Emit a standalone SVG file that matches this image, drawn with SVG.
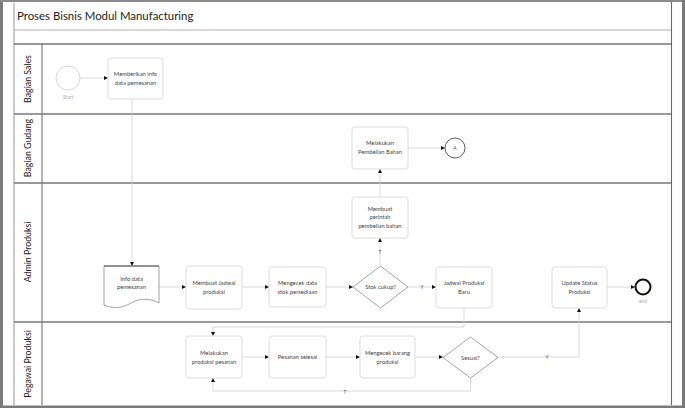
<svg xmlns="http://www.w3.org/2000/svg" width="685" height="408" viewBox="0 0 685 408">
<style>
.t{font-family:Lato,"Liberation Sans",sans-serif;font-size:5.8px;fill:#444;text-anchor:middle}
.lane{font-family:Lato,"Liberation Sans",sans-serif;font-size:8.8px;fill:#222;text-anchor:middle}
.task{fill:#fff;stroke:#d8d8d8;stroke-width:0.9}
.gw{fill:#fff;stroke:#8a8a8a;stroke-width:0.8}
.c{fill:none;stroke:#cfcfcf;stroke-width:0.8}
.lbl{font-family:Lato,"Liberation Sans",sans-serif;font-size:5px;fill:#555;text-anchor:middle}
</style>
<defs>
<marker id="ah" markerUnits="userSpaceOnUse" markerWidth="5" markerHeight="5" refX="4" refY="2" orient="auto">
<path d="M0,0 L4,2 L0,4 Z" fill="#111"/>
</marker>
</defs>
<rect width="685" height="408" fill="#fff"/>
<g id="frame">
<rect x="0" y="0" width="3" height="408" fill="#7a7a7a"/>
<rect x="0" y="0" width="685" height="2" fill="#8a8a8a"/>
<rect x="0" y="405.5" width="685" height="2.5" fill="#7a7a7a"/>
<rect x="682" y="0" width="3" height="408" fill="#7a7a7a"/>
<line x1="668" y1="2" x2="668" y2="405" stroke="#e6e6e6" stroke-width="0.6"/>
<line x1="671.5" y1="2" x2="671.5" y2="405" stroke="#666" stroke-width="1.1"/>
<line x1="14" y1="3" x2="14" y2="405" stroke="#888" stroke-width="0.9"/>
<line x1="14" y1="30" x2="671" y2="30" stroke="#aaa" stroke-width="0.9"/>
<line x1="14" y1="44" x2="671" y2="44" stroke="#333" stroke-width="1.1"/>
<line x1="42" y1="44" x2="42" y2="405" stroke="#555" stroke-width="0.9"/>
<line x1="14" y1="114" x2="671" y2="114" stroke="#777" stroke-width="1.6"/>
<line x1="14" y1="183" x2="671" y2="183" stroke="#777" stroke-width="1.3"/>
<line x1="14" y1="322" x2="671" y2="322" stroke="#777" stroke-width="1.3"/>
<text x="17" y="20" font-family="Lato,'Liberation Sans',sans-serif" font-size="11.4" fill="#222">Proses Bisnis Modul Manufacturing</text>
<text class="lane" transform="translate(31,79) rotate(-90)">Bagian Sales</text>
<text class="lane" transform="translate(31,148) rotate(-90)">Bagian Gudang</text>
<text class="lane" transform="translate(31,252) rotate(-90)">Admin Produksi</text>
<text class="lane" transform="translate(31,364) rotate(-90)">Pegawai Produksi</text>
</g>
<g id="connectors">
<line class="c" x1="80" y1="78" x2="108" y2="78" marker-end="url(#ah)"/>
<line class="c" x1="132" y1="99" x2="132" y2="266" marker-end="url(#ah)"/>
<line class="c" x1="159" y1="287" x2="186" y2="287" marker-end="url(#ah)"/>
<line class="c" x1="242" y1="287" x2="269" y2="287" marker-end="url(#ah)"/>
<line class="c" x1="326" y1="287" x2="353" y2="287" marker-end="url(#ah)"/>
<line class="c" x1="408" y1="287" x2="436" y2="287" marker-end="url(#ah)"/>
<text class="lbl" x="422" y="289">Y</text>
<line class="c" x1="380" y1="266" x2="380" y2="238" marker-end="url(#ah)"/>
<text class="lbl" x="380" y="254">T</text>
<line class="c" x1="380" y1="197" x2="380" y2="169" marker-end="url(#ah)"/>
<line class="c" x1="408" y1="148" x2="445" y2="148" marker-end="url(#ah)"/>
<polyline class="c" points="464,308 464,327 213,327 213,336" marker-end="url(#ah)"/>
<line class="c" x1="242" y1="357" x2="269" y2="357" marker-end="url(#ah)"/>
<line class="c" x1="326" y1="357" x2="360" y2="357" marker-end="url(#ah)"/>
<line class="c" x1="415" y1="357" x2="443" y2="357" marker-end="url(#ah)"/>
<polyline class="c" points="498,357 579,357 579,308" marker-end="url(#ah)"/>
<text class="lbl" x="547" y="359">Y</text>
<polyline class="c" points="470.5,378 470.5,391 213,391 213,378" marker-end="url(#ah)"/>
<text class="lbl" x="345" y="394">T</text>
<line class="c" x1="607" y1="287" x2="635" y2="287" marker-end="url(#ah)"/>
</g>
<g id="start">
<circle cx="68" cy="78" r="12" fill="#fff" stroke="#cfcfcf" stroke-width="0.9"/>
<text class="lbl" x="68" y="99" style="fill:#aaa">Start</text>
</g>
<g id="memberikan-info">
<rect class="task" x="108" y="58" width="55" height="41" rx="3"/>
<text class="t" x="135.5" y="76">Memberikan info</text>
<text class="t" x="135.5" y="85">data pemesanan</text>
</g>
<g id="melakukan-pembelian">
<rect class="task" x="352" y="127" width="56" height="42" rx="3"/>
<text class="t" x="380" y="145">Melakukan</text>
<text class="t" x="380" y="154">Pembelian Bahan</text>
</g>
<g id="off-page-a">
<circle cx="455" cy="148" r="10" fill="#fff" stroke="#333" stroke-width="0.8"/>
<text class="lbl" x="455" y="150">A</text>
</g>
<g id="membuat-perintah">
<rect class="task" x="352" y="197" width="56" height="41" rx="3"/>
<text class="t" x="380" y="211">Membuat</text>
<text class="t" x="380" y="219">perintah</text>
<text class="t" x="380" y="228">pembelian bahan</text>
</g>
<g id="info-data-pemesanan">
<path d="M104,266 H159 V303 C148,297 138,299 131,303 C123,308 113,309 104,305 Z" fill="#fff" stroke="#8a8a8a" stroke-width="0.8"/>
<line x1="104" y1="266" x2="159" y2="266" stroke="#555" stroke-width="1.2"/>
<text class="t" x="131.5" y="281">Info data</text>
<text class="t" x="131.5" y="289">pemesanan</text>
</g>
<g id="membuat-jadwal">
<rect class="task" x="186" y="266" width="56" height="43" rx="3"/>
<text class="t" x="214" y="285">Membuat Jadwal</text>
<text class="t" x="214" y="294">produksi</text>
</g>
<g id="mengecek-stok">
<rect class="task" x="269" y="267" width="57" height="40" rx="3"/>
<text class="t" x="297.5" y="285">Mengecek data</text>
<text class="t" x="297.5" y="294">stok persediaan</text>
</g>
<g id="stok-cukup">
<polygon class="gw" points="380.5,266 408,287 380.5,308 353,287"/>
<text class="t" x="380.5" y="289">Stok cukup?</text>
</g>
<g id="jadwal-baru">
<rect class="task" x="436" y="267" width="56" height="41" rx="3"/>
<text class="t" x="464" y="285">Jadwal Produksi</text>
<text class="t" x="464" y="294">Baru</text>
</g>
<g id="update-status">
<rect class="task" x="552" y="267" width="55" height="41" rx="3"/>
<text class="t" x="579.5" y="285">Update Status</text>
<text class="t" x="579.5" y="294">Produksi</text>
</g>
<g id="end">
<circle cx="643" cy="287" r="7.5" fill="#fff" stroke="#111" stroke-width="2"/>
<text class="lbl" x="643" y="303" style="fill:#aaa">end</text>
</g>
<g id="melakukan-produksi">
<rect class="task" x="186" y="336" width="56" height="42" rx="3"/>
<text class="t" x="214" y="355">Melakukan</text>
<text class="t" x="214" y="364">produksi pesanan</text>
</g>
<g id="pesanan-selesai">
<rect class="task" x="269" y="336" width="57" height="42" rx="3"/>
<text class="t" x="297.5" y="359">Pesanan selesai</text>
</g>
<g id="mengecek-barang">
<rect class="task" x="360" y="336" width="55" height="42" rx="3"/>
<text class="t" x="387.5" y="355">Mengecek barang</text>
<text class="t" x="387.5" y="364">produksi</text>
</g>
<g id="sesuai">
<polygon class="gw" points="470.5,337 498,357.5 470.5,378 443,357.5"/>
<text class="t" x="470.5" y="359.5">Sesuai?</text>
</g>
</svg>
